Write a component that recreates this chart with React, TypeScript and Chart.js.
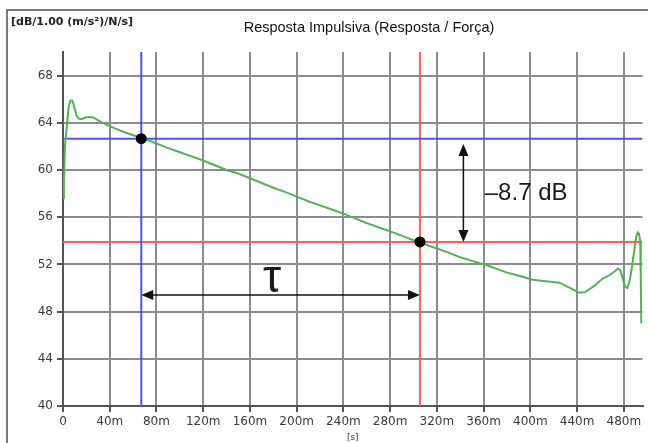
import React, { useEffect, useRef } from "react";
import { Chart, registerables } from "chart.js";

Chart.register(...registerables);

// ---- data ----
const xTickLabels = ["0", "40m", "80m", "120m", "160m", "200m", "240m", "280m", "320m", "360m", "400m", "440m", "480m"];
const yTickStep = 4;
const xRange = [0, 496];
const yRange = [40, 70];

// impulse response (ms, dB)
const curveX = [0, 0.8, 1.7, 3.4, 5, 6.5, 7.9, 9.5, 11.6, 13.5, 15.9, 19, 23, 26, 28.6, 33, 38, 45, 52.7, 60, 68,
  80, 90, 100, 110, 120, 130, 140, 150, 160, 170, 180, 190, 201, 210, 220, 230, 240, 250, 260, 270, 280, 292, 305,
  320, 330, 340, 350, 362, 372, 380, 392, 402, 415, 425, 435, 442, 447, 455, 462, 468, 472, 475, 477, 479, 481,
  483, 485, 487, 489, 490.5, 492, 493, 494, 494.5, 495];
const curveY = [57.6, 59.0, 62.1, 63.8, 65.5, 65.9, 65.9, 65.4, 64.6, 64.35, 64.3, 64.45, 64.5, 64.45, 64.3, 64.05, 63.8, 63.5, 63.2, 62.95, 62.7,
  62.25, 61.85, 61.5, 61.15, 60.8, 60.4, 60.0, 59.7, 59.3, 58.9, 58.5, 58.15, 57.7, 57.35, 57.0, 56.65, 56.3, 55.9, 55.5, 55.15, 54.8, 54.35, 53.86,
  53.35, 53.0, 52.6, 52.3, 51.95, 51.6, 51.3, 51.0, 50.7, 50.55, 50.45, 49.95, 49.6, 49.65, 50.2, 50.8, 51.1, 51.4, 51.65, 51.5, 50.8, 50.1,
  50.0, 50.6, 51.8, 53.2, 54.3, 54.7, 54.6, 54.0, 51.0, 47.0];

// cursors
const cursor1 = { x: 67, y: 62.65 };
const cursor2 = { x: 305.5, y: 53.9 };
const dropLabel = "\u20138.7 dB";
const tauLabel = "\u03c4";
const titleText = "Resposta Impulsiva (Resposta / For\u00e7a)";
const unitsText = "[dB/1.00 (m/s\u00b2)/N/s]";
const xTitle = "[s]";

// annotation anchors (data units)
const vArrow = { x: 342.7, y1: 62.2, y2: 53.9 };
const hArrow = { y: 49.4, x1: 67, x2: 305.5 };
const dropPos = { x: 361, y: 57.43 };
const tauPos = { x: 179, y: 49.66 };

function arrowHead(ctx: CanvasRenderingContext2D, x: number, y: number, dx: number, dy: number) {
  const L = 12, W = 5;
  const px = -dy, py = dx;
  ctx.beginPath();
  ctx.moveTo(x, y);
  ctx.lineTo(x - dx * L + px * W, y - dy * L + py * W);
  ctx.lineTo(x - dx * L - px * W, y - dy * L - py * W);
  ctx.closePath();
  ctx.fill();
}

const decorPlugin = {
  id: "decor",
  beforeDraw(chart: any) {
    const ctx = chart.ctx as CanvasRenderingContext2D;
    ctx.save();
    ctx.fillStyle = "#ffffff";
    ctx.fillRect(0, 0, chart.width, chart.height);
    ctx.strokeStyle = "#7a7a7a";
    ctx.lineWidth = 2;
    ctx.beginPath();
    ctx.moveTo(7, chart.height);
    ctx.lineTo(7, 10);
    ctx.lineTo(chart.width, 10);
    ctx.stroke();
    ctx.fillStyle = "#222";
    ctx.font = "bold 11px 'DejaVu Sans'";
    ctx.textBaseline = "middle";
    ctx.textAlign = "left";
    ctx.fillText(unitsText, 11, 22);
    ctx.font = "14.5px 'Liberation Sans', Arial";
    ctx.textAlign = "center";
    ctx.fillStyle = "#111";
    ctx.fillText(titleText, 369, 28);
    ctx.restore();
  },
  afterDatasetsDraw(chart: any) {
    const ctx = chart.ctx as CanvasRenderingContext2D;
    const xs = chart.scales.x, ys = chart.scales.y;
    ctx.save();
    ctx.strokeStyle = "#111";
    ctx.fillStyle = "#111";
    ctx.lineWidth = 1.5;
    const vx = xs.getPixelForValue(vArrow.x);
    const vy1 = ys.getPixelForValue(vArrow.y1);
    const vy2 = ys.getPixelForValue(vArrow.y2);
    ctx.beginPath();
    ctx.moveTo(vx, vy1 + 8);
    ctx.lineTo(vx, vy2 - 8);
    ctx.stroke();
    arrowHead(ctx, vx, vy1, 0, -1);
    arrowHead(ctx, vx, vy2, 0, 1);
    const hy = ys.getPixelForValue(hArrow.y);
    const hx1 = xs.getPixelForValue(hArrow.x1);
    const hx2 = xs.getPixelForValue(hArrow.x2);
    ctx.beginPath();
    ctx.moveTo(hx1 + 8, hy);
    ctx.lineTo(hx2 - 8, hy);
    ctx.stroke();
    arrowHead(ctx, hx1, hy, -1, 0);
    arrowHead(ctx, hx2, hy, 1, 0);
    ctx.fillStyle = "#1a1a1a";
    ctx.textBaseline = "alphabetic";
    ctx.textAlign = "left";
    ctx.font = "24px 'Liberation Sans', Arial";
    ctx.fillText(dropLabel, xs.getPixelForValue(dropPos.x), ys.getPixelForValue(dropPos.y));
    ctx.textAlign = "center";
    ctx.font = "46px 'Liberation Sans', Arial";
    ctx.fillText(tauLabel, xs.getPixelForValue(tauPos.x), ys.getPixelForValue(tauPos.y));
    ctx.restore();
  },
};

export default function App() {
  const ref = useRef<HTMLCanvasElement | null>(null);
  useEffect(() => {
    if (!ref.current) return;
    const curve = curveX.map((x, i) => ({ x, y: curveY[i] }));
    const lineDs = (data: any[], color: string) => ({
      data, borderColor: color, borderWidth: 2, pointRadius: 0, fill: false, tension: 0,
    });
    const chart = new Chart(ref.current, {
      type: "line",
      data: {
        datasets: [
          {
            data: [{ x: cursor1.x, y: cursor1.y }, { x: cursor2.x, y: cursor2.y }],
            showLine: false, pointRadius: 5.5, pointBackgroundColor: "#000", pointBorderColor: "#000", pointBorderWidth: 0,
          },
          { data: curve, borderColor: "#55b055", borderWidth: 2, pointRadius: 0, fill: false, tension: 0 },
          lineDs([{ x: xRange[0], y: cursor1.y }, { x: xRange[1], y: cursor1.y }], "#5050ff"),
          lineDs([{ x: cursor1.x, y: yRange[0] }, { x: cursor1.x, y: yRange[1] }], "#5050ff"),
          lineDs([{ x: xRange[0], y: cursor2.y }, { x: xRange[1], y: cursor2.y }], "#ff5c5c"),
          lineDs([{ x: cursor2.x, y: yRange[0] }, { x: cursor2.x, y: yRange[1] }], "#ff5c5c"),
        ] as any,
      },
      options: {
        animation: false,
        responsive: false,
        devicePixelRatio: 1,
        layout: { padding: { top: 52, right: 1, left: 0, bottom: 0 } },
        plugins: { legend: { display: false }, tooltip: { enabled: false }, title: { display: false } },
        scales: {
          x: {
            type: "linear",
            min: xRange[0],
            max: xRange[1],
            afterFit: (s: any) => { s.height = 37; },
            ticks: {
              stepSize: 40,
              includeBounds: false,
              autoSkip: false,
              maxRotation: 0,
              padding: 3,
              color: "#3a3a3a",
              font: { family: "'DejaVu Sans'", size: 12 },
              callback: (_v: any, i: number) => xTickLabels[i] ?? "",
            },
            grid: { color: "#8c8c8c", lineWidth: 2, tickLength: 6, tickColor: "#555" },
            border: { color: "#555", width: 2 },
            title: { display: true, text: xTitle, font: { family: "'DejaVu Sans'", size: 9 }, color: "#333", padding: 0 },
          },
          y: {
            type: "linear",
            min: yRange[0],
            max: yRange[1],
            afterFit: (s: any) => { s.width = 63; },
            ticks: {
              stepSize: yTickStep,
              includeBounds: false,
              padding: 4,
              color: "#3a3a3a",
              font: { family: "'DejaVu Sans'", size: 12 },
            },
            grid: { color: "#8c8c8c", lineWidth: 2, tickLength: 6, tickColor: "#555" },
            border: { color: "#555", width: 2 },
          },
        },
      },
      plugins: [decorPlugin],
    } as any);
    return () => chart.destroy();
  }, []);
  return (
    <div style={{ position: "fixed", left: 0, top: 0, width: 648, height: 443, background: "#fff" }}>
      <canvas ref={ref} width={648} height={443} style={{ display: "block" }} />
    </div>
  );
}
